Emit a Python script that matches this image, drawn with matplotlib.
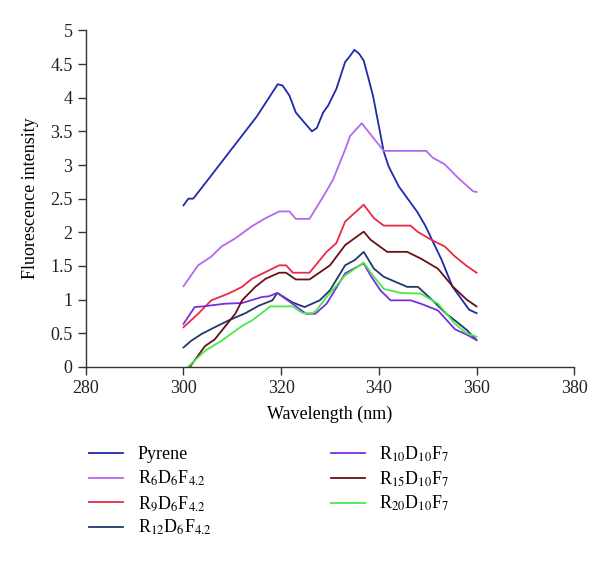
import matplotlib
matplotlib.use("Agg")
import matplotlib.pyplot as plt

# values (wavelength nm, fluorescence intensity)
pyrene_x = [300, 301, 302, 305, 310, 315, 319.3, 320.3, 321.7, 323, 324.4, 326.3, 327.3, 328.6, 329.6,
            331.3, 333.1, 334.1, 335, 336, 336.9, 337.9, 338.8, 340, 341, 342, 344.1, 345.9, 347.9,
            349.5, 352.8, 355.1, 357, 358.5, 360]
pyrene_y = [2.4, 2.5, 2.5, 2.78, 3.25, 3.72, 4.2, 4.18, 4.03, 3.78, 3.66, 3.5, 3.55, 3.78, 3.88,
            4.13, 4.53, 4.62, 4.71, 4.65, 4.55, 4.28, 4.03, 3.58, 3.2, 2.98, 2.68, 2.5, 2.3,
            2.1, 1.6, 1.19, 1.0, 0.85, 0.8]

r6_x = [300, 303, 305.7, 307.8, 310.6, 314, 316.8, 319.6, 321.7, 323, 325.8, 328.6, 330.6, 333.1,
        334.1, 336.5, 341, 349.7, 351, 353.5, 356.2, 359.3, 360]
r6_y = [1.2, 1.51, 1.64, 1.79, 1.91, 2.09, 2.21, 2.31, 2.31, 2.2, 2.2, 2.53, 2.78, 3.23,
        3.43, 3.62, 3.21, 3.21, 3.11, 3.01, 2.81, 2.61, 2.6]

r9_x = [300, 303, 305.7, 309.2, 312, 314, 316.8, 319.6, 321, 322.4, 325.8, 329.3, 331.3, 333.1,
        336.9, 339, 341, 346.5, 347.9, 350.7, 353.5, 355.6, 358, 360]
r9_y = [0.59, 0.79, 0.99, 1.09, 1.19, 1.31, 1.41, 1.51, 1.51, 1.4, 1.4, 1.71, 1.84, 2.16,
        2.41, 2.21, 2.1, 2.1, 2.01, 1.89, 1.79, 1.64, 1.5, 1.4]

r12_x = [300, 301.6, 303.7, 306.4, 309.2, 312.7, 315.4, 318.2, 319.2, 322.3, 324.8, 327.9, 330,
         333.1, 335.1, 336.9, 339, 341, 345.8, 348, 351, 353.8, 355.6, 358, 360]
r12_y = [0.29, 0.39, 0.49, 0.59, 0.69, 0.8, 0.91, 0.99, 1.1, 0.96, 0.89, 0.99, 1.14,
         1.51, 1.59, 1.71, 1.46, 1.34, 1.19, 1.19, 0.99, 0.79, 0.69, 0.55, 0.4]

r10_x = [300, 302.3, 304, 308.5, 312, 316.1, 317.5, 319.2, 322.3, 325.1, 327, 329.3, 333.1, 336.9,
         338.3, 340.3, 342.4, 346.5, 348.6, 352.1, 355.6, 358, 360]
r10_y = [0.64, 0.89, 0.9, 0.94, 0.95, 1.04, 1.05, 1.1, 0.94, 0.79, 0.79, 0.94, 1.39, 1.54,
         1.36, 1.14, 0.99, 0.99, 0.94, 0.84, 0.56, 0.48, 0.4]

r15_x = [301.3, 304.4, 306.4, 310.6, 312, 314.7, 316.8, 319.6, 321, 323, 325.8, 330, 333.1, 336.9,
         338.3, 341.7, 345.8, 348.6, 352.1, 355.2, 358, 360]
r15_y = [0.0, 0.31, 0.41, 0.79, 0.99, 1.19, 1.31, 1.40, 1.40, 1.30, 1.30, 1.51, 1.81, 2.01,
         1.89, 1.71, 1.71, 1.61, 1.46, 1.19, 1.0, 0.9]

r20_x = [300.9, 304.4, 307.8, 312, 314, 317.8, 322.3, 324.4, 326.5, 327.2, 329.3, 333.1, 336.9,
         339, 341, 344.5, 348.6, 352.1, 355.6, 358, 360]
r20_y = [0.0, 0.24, 0.39, 0.61, 0.69, 0.9, 0.9, 0.8, 0.8, 0.84, 1.04, 1.36, 1.55,
         1.34, 1.16, 1.1, 1.09, 0.94, 0.64, 0.5, 0.45]

labels = ["Pyrene", r"R$_6$D$_6$F$_{4.2}$", r"R$_9$D$_6$F$_{4.2}$", r"R$_{12}$D$_6$F$_{4.2}$",
          r"R$_{10}$D$_{10}$F$_7$", r"R$_{15}$D$_{10}$F$_7$", r"R$_{20}$D$_{10}$F$_7$"]
colors = ["#1f2aa8", "#b468ee", "#ea2a45", "#1d3a6a", "#7a2ee0", "#6a0f16", "#4ae84a"]
series = [(pyrene_x, pyrene_y), (r6_x, r6_y), (r9_x, r9_y), (r12_x, r12_y),
          (r10_x, r10_y), (r15_x, r15_y), (r20_x, r20_y)]

plt.rcParams.update({"font.family": "serif", "font.serif": ["Liberation Serif"],
                     "mathtext.fontset": "stix", "font.size": 13})

fig = plt.figure(figsize=(6, 5.62), dpi=100)
ax = fig.add_axes([0.143, 0.347, 0.814, 0.599])
for (x, y), lab, c in zip(series, labels, colors):
    ax.plot(x, y, color=c, lw=1.3, label=lab)

ax.set_xlim(280, 380); ax.set_ylim(0, 5)
ax.set_xticks(range(280, 381, 20))
ax.set_yticks([0, 0.5, 1, 1.5, 2, 2.5, 3, 3.5, 4, 4.5, 5])
ax.set_yticklabels(["0", "0.5", "1", "1.5", "2", "2.5", "3", "3.5", "4", "4.5", "5"])
for s in ["top", "right"]:
    ax.spines[s].set_visible(False)
for s in ["left", "bottom"]:
    ax.spines[s].set_color("#333333"); ax.spines[s].set_linewidth(1.0)
ax.tick_params(direction="out", length=6, width=1, color="#333333", labelcolor="#222222")
ax.set_xlabel("Wavelength (nm)", labelpad=6)
ax.set_ylabel("Fluorescence intensity", labelpad=8)

fig.legend(loc="upper left", bbox_to_anchor=(0.136, 0.222), ncol=2, frameon=False,
           handlelength=1.9, handletextpad=0.8, columnspacing=6.6, labelspacing=0.3,
           borderaxespad=0, fontsize=13)

fig.savefig("out.png", dpi=100)
